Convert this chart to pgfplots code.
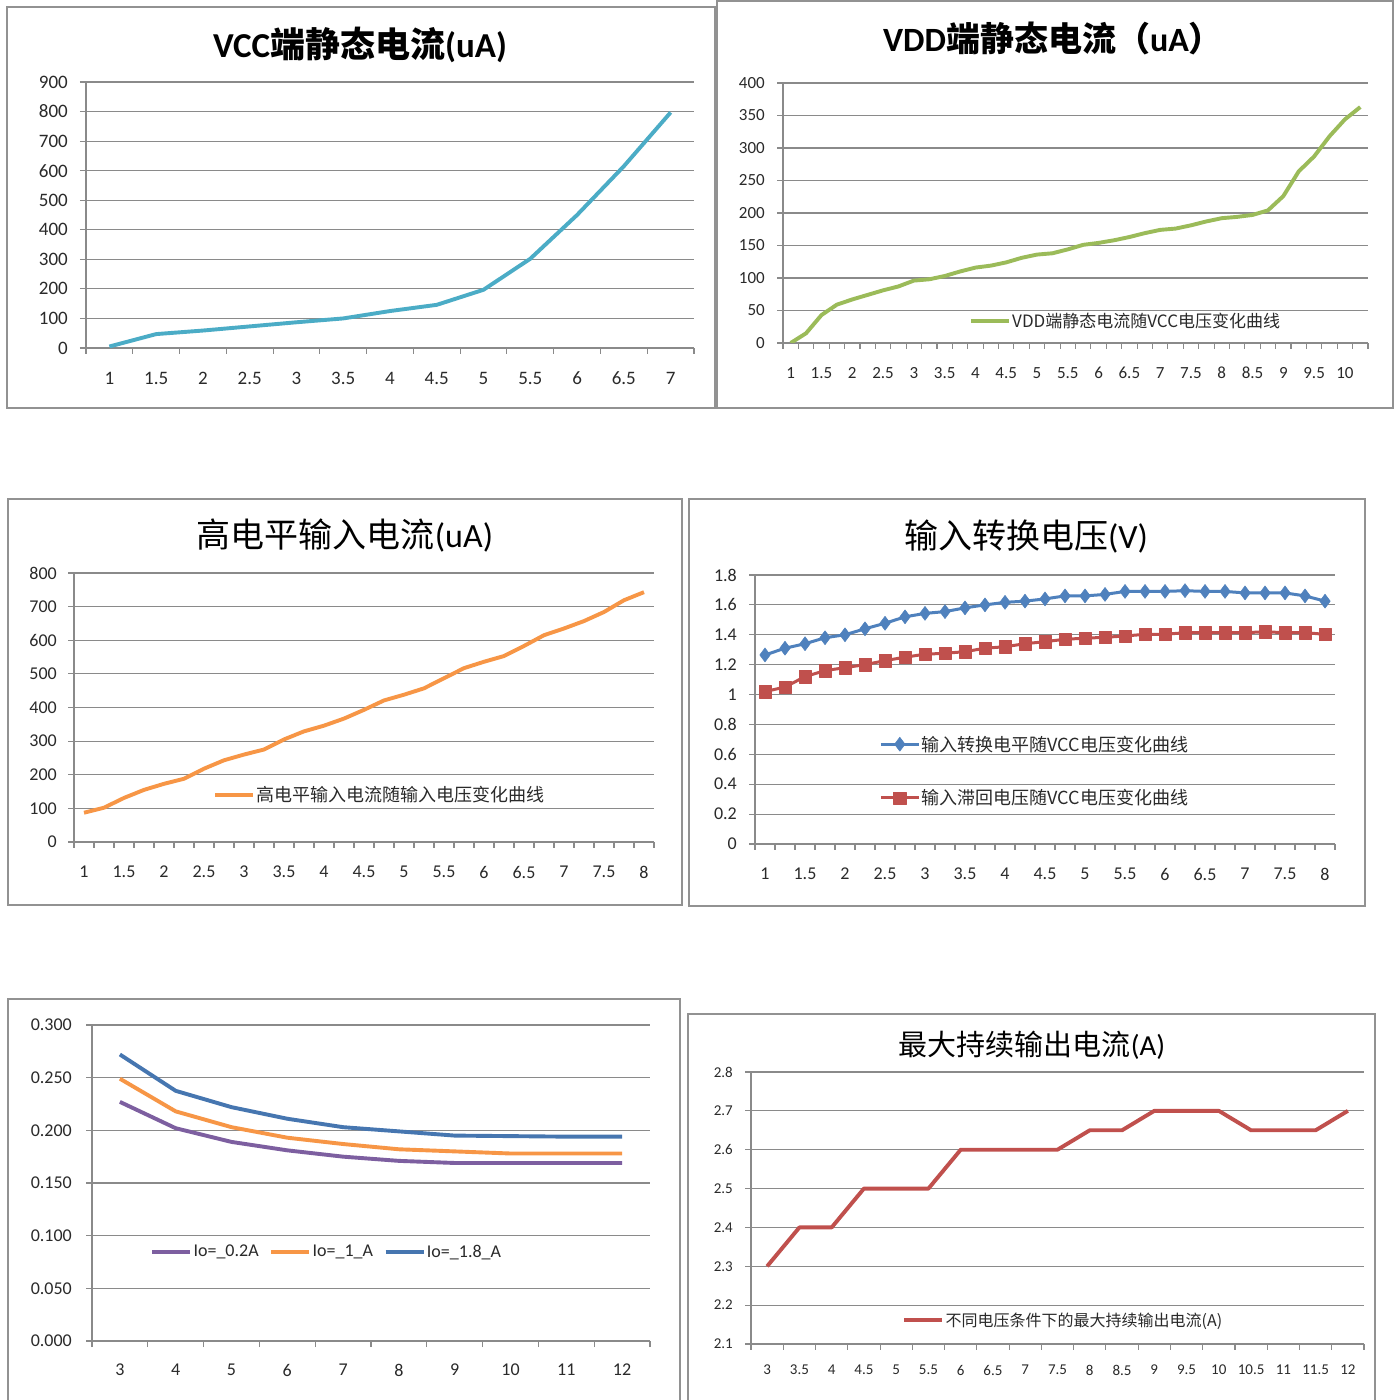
\documentclass[border=0pt]{standalone}
\usepackage{pgfplots}
\pgfplotsset{compat=1.18}
\usepackage{fontspec}
\setmainfont{Carlito}
\newfontfamily\cjk{Noto Sans CJK SC}

\definecolor{tealc}{HTML}{4BACC6}
\definecolor{greenc}{HTML}{9BBB59}
\definecolor{orangec}{HTML}{F79646}
\definecolor{bluec}{HTML}{4F81BD}
\definecolor{blued}{HTML}{4676B0}
\definecolor{redc}{HTML}{C0504D}
\definecolor{purplec}{HTML}{7D5FA0}
\definecolor{gridc}{HTML}{8A8A8A}
\definecolor{framec}{HTML}{929292}
\definecolor{labelc}{HTML}{2A2A2A}

\newcommand{\fs}[1]{\fontsize{#1}{#1}\selectfont}

% common look of the excel style line charts
\pgfplotsset{
  xlchart/.style={
    scale only axis,
    axis x line*=bottom, axis y line*=left,
    axis line style={draw=gridc, line width=1.1pt, -},
    ymajorgrids, grid style={draw=gridc, line width=1.1pt},
    tick align=outside,
    major tick length=6pt, minor tick length=6pt,
    major x tick style={draw=none},
    minor x tick style={draw=gridc, line width=1.1pt},
    major y tick style={draw=gridc, line width=1.1pt},
    /pgf/number format/assume math mode=true,
    xticklabel style={anchor=center, text=labelc, font=\fs{19}},
    yticklabel style={anchor=east, inner sep=0pt, text=labelc, font=\fs{19}},
    legend style={draw=none, fill=none, font=\cjk\fs{18}, text=labelc,
      nodes={inner sep=1.5pt}},
    legend cell align=left,
    legend image code/.code={\draw[mark repeat=2, mark phase=2, #1]
      plot coordinates {(0pt,0pt) (19pt,0pt) (38pt,0pt)};},
    line join=round,
  },
}

\begin{document}
\begin{tikzpicture}[x=1pt, y=1pt]
\fill[white] (0,0) rectangle (1399,1400);
\path[use as bounding box] (0,0) rectangle (1399,1400);

% chart frames
\draw[framec, line width=1.2pt] (7,992) rectangle (715,1393);
\draw[framec, line width=1.2pt] (717,992) rectangle (1393,1399);
\draw[framec, line width=1.2pt] (8,495) rectangle (682,901);
\draw[framec, line width=1.2pt] (689,494) rectangle (1365,901);
\draw[framec, line width=1.2pt] (8,-2) -- (8,401) -- (680,401) -- (680,-2);
\draw[framec, line width=1.2pt] (688,-2) -- (688,386) -- (1375,386) -- (1375,-2);

% titles
\node[font=\fs{35}\bfseries] at (360,1355) {VCC{\cjk\bfseries 端静态电流}(uA)};
\node[font=\fs{34}\bfseries] at (1053,1362) {VDD{\cjk\bfseries 端静态电流（}uA{\cjk\bfseries ）}};
\node[font=\fs{34}] at (345,864) {{\cjk 高电平输入电流}(uA)};
\node[font=\fs{34}] at (1026,863) {{\cjk 输入转换电压}(V)};
\node[font=\fs{29}] at (1032,355) {{\cjk 最大持续输出电流}(A)};

% VCC quiescent current
\begin{axis}[xlchart, at={(86pt,1052pt)}, anchor=south west,
  width=608pt, height=266pt,
  xmin=-0.5, xmax=12.5, ymin=0, ymax=900,
  xtick={0,...,12},
  xticklabels={1,1.5,2,2.5,3,3.5,4,4.5,5,5.5,6,6.5,7},
  minor xtick={-0.5,0.5,...,12.5},
  ytick={0,100,...,900},
  yticklabels={0,100,200,300,400,500,600,700,800,900},
  xticklabel style={yshift=-24pt},
  yticklabel style={xshift=-12pt},
]
\addplot[tealc, line width=3.9pt] coordinates {
  (0,5) (1,47) (2,59) (3,73) (4,87) (5,100) (6,125) (7,146)
  (8,197) (9,302) (10,450) (11,615) (12,797)
};
\end{axis}

% VDD quiescent current
\begin{axis}[xlchart, at={(783pt,1057pt)}, anchor=south west,
  width=585pt, height=260pt,
  xmin=-0.5, xmax=37.5, ymin=0, ymax=400,
  xtick={0,2,...,36},
  xticklabels={1,1.5,2,2.5,3,3.5,4,4.5,5,5.5,6,6.5,7,7.5,8,8.5,9,9.5,10},
  minor xtick={-0.5,0.5,...,37.5},
  ytick={0,50,...,400},
  yticklabels={0,50,100,150,200,250,300,350,400},
  xticklabel style={yshift=-24pt, font=\fs{17}},
  yticklabel style={xshift=-12pt, font=\fs{17}},
  legend style={at={(0.585,0.085)}, anchor=center, font=\cjk\fs{17}},
]
\addplot[greenc, line width=3.9pt] coordinates {
  (0,0) (1,15) (2,43) (3,59) (4,67) (5,74) (6,81) (7,87) (8,96) (9,98)
  (10,103) (11,110) (12,116) (13,119) (14,124) (15,131) (16,136) (17,138)
  (18,144) (19,151) (20,154) (21,158) (22,163) (23,169) (24,174) (25,176)
  (26,181) (27,187) (28,192) (29,194) (30,197) (31,204) (32,226) (33,264)
  (34,287) (35,318) (36,344) (37,363)
};
\addlegendentry{VDD端静态电流随VCC电压变化曲线}
\end{axis}

% high level input current
\begin{axis}[xlchart, at={(74pt,558pt)}, anchor=south west,
  width=580pt, height=269pt,
  xmin=-0.5, xmax=28.5, ymin=0, ymax=800,
  xtick={0,2,...,28},
  xticklabels={1,1.5,2,2.5,3,3.5,4,4.5,5,5.5,6,6.5,7,7.5,8},
  minor xtick={-0.5,0.5,...,28.5},
  ytick={0,100,...,800},
  yticklabels={0,100,200,300,400,500,600,700,800},
  xticklabel style={yshift=-24pt, font=\fs{18}},
  yticklabel style={xshift=-11pt, font=\fs{18}},
  legend style={at={(0.527,0.175)}, anchor=center, font=\cjk\fs{18}},
]
\addplot[orangec, line width=3.9pt] coordinates {
  (0,87) (1,102) (2,131) (3,155) (4,173) (5,188) (6,218) (7,243) (8,260)
  (9,275) (10,305) (11,329) (12,346) (13,367) (14,393) (15,421) (16,438)
  (17,457) (18,487) (19,517) (20,536) (21,553) (22,583) (23,615) (24,635)
  (25,657) (26,684) (27,719) (28,743)
};
\addlegendentry{高电平输入电流随输入电压变化曲线}
\end{axis}

% input threshold voltage
\begin{axis}[xlchart, at={(755pt,556pt)}, anchor=south west,
  width=580pt, height=269pt,
  xmin=-0.5, xmax=28.5, ymin=0, ymax=1.8,
  xtick={0,2,...,28},
  xticklabels={1,1.5,2,2.5,3,3.5,4,4.5,5,5.5,6,6.5,7,7.5,8},
  minor xtick={-0.5,0.5,...,28.5},
  ytick={0,0.2,...,1.8},
  yticklabels={0,0.2,0.4,0.6,0.8,1,1.2,1.4,1.6,1.8},
  xticklabel style={yshift=-24pt, font=\fs{18}},
  yticklabel style={xshift=-12pt, font=\fs{18}},
  legend style={at={(0.482,0.271)}, anchor=center, font=\cjk\fs{18},
    row sep=34pt},
]
\addplot[bluec, line width=3pt, mark=diamond*, mark size=7pt,
  mark options={line width=0.5pt}] coordinates {
  (0,1.265) (1,1.31) (2,1.34) (3,1.38) (4,1.40) (5,1.44) (6,1.477)
  (7,1.52) (8,1.543) (9,1.555) (10,1.58) (11,1.60) (12,1.617) (13,1.625)
  (14,1.64) (15,1.66) (16,1.66) (17,1.67) (18,1.69) (19,1.69) (20,1.69)
  (21,1.695) (22,1.69) (23,1.69) (24,1.68) (25,1.68) (26,1.68) (27,1.66)
  (28,1.625)
};
\addlegendentry{输入转换电平随VCC电压变化曲线}
\addplot[redc, line width=3pt, mark=square*, mark size=6.2pt,
  mark options={line width=0.5pt}] coordinates {
  (0,1.02) (1,1.05) (2,1.12) (3,1.16) (4,1.18) (5,1.20) (6,1.227)
  (7,1.25) (8,1.27) (9,1.276) (10,1.287) (11,1.31) (12,1.32) (13,1.34)
  (14,1.354) (15,1.37) (16,1.377) (17,1.383) (18,1.392) (19,1.403)
  (20,1.403) (21,1.414) (22,1.414) (23,1.414) (24,1.414) (25,1.42)
  (26,1.414) (27,1.414) (28,1.403)
};
\addlegendentry{输入滞回电压随VCC电压变化曲线}
\end{axis}

% dropout at different loads
\begin{axis}[xlchart, at={(92pt,59pt)}, anchor=south west,
  width=558pt, height=316pt,
  xmin=-0.5, xmax=9.5, ymin=0, ymax=0.3,
  xtick={0,...,9},
  xticklabels={3,4,5,6,7,8,9,10,11,12},
  minor xtick={-0.5,0.5,...,9.5},
  ytick={0,0.05,...,0.3},
  yticklabels={0.000,0.050,0.100,0.150,0.200,0.250,0.300},
  xticklabel style={yshift=-23pt, font=\fs{18}},
  yticklabel style={xshift=-14pt, font=\fs{18}},
  legend columns=3,
  legend style={at={(0.42,0.282)}, anchor=center, font=\fs{18},
    /tikz/every even column/.append style={column sep=9pt}},
]
\addplot[purplec, line width=3.9pt] coordinates {
  (0,0.227) (1,0.202) (2,0.189) (3,0.181) (4,0.175) (5,0.171) (6,0.169)
  (7,0.169) (8,0.169) (9,0.169)
};
\addlegendentry{Io=\_0.2A}
\addplot[orangec, line width=3.9pt] coordinates {
  (0,0.249) (1,0.218) (2,0.203) (3,0.193) (4,0.187) (5,0.182) (6,0.180)
  (7,0.178) (8,0.178) (9,0.178)
};
\addlegendentry{Io=\_1\_A}
\addplot[blued, line width=3.9pt] coordinates {
  (0,0.272) (1,0.2375) (2,0.222) (3,0.211) (4,0.203) (5,0.199) (6,0.195)
  (7,0.1945) (8,0.194) (9,0.194)
};
\addlegendentry{Io=\_1.8\_A}
\end{axis}

% maximum continuous output current
\begin{axis}[xlchart, at={(751pt,56pt)}, anchor=south west,
  width=613pt, height=272pt,
  xmin=-0.5, xmax=18.5, ymin=2.1, ymax=2.8,
  xtick={0,...,18},
  xticklabels={3,3.5,4,4.5,5,5.5,6,6.5,7,7.5,8,8.5,9,9.5,10,10.5,11,11.5,12},
  minor xtick={-0.5,0.5,...,18.5},
  ytick={2.1,2.2,...,2.8},
  yticklabels={2.1,2.2,2.3,2.4,2.5,2.6,2.7,2.8},
  xticklabel style={yshift=-20pt, font=\fs{15}},
  yticklabel style={xshift=-12pt, font=\fs{15}},
  legend style={at={(0.509,0.088)}, anchor=center, font=\cjk\fs{16}},
]
\addplot[redc, line width=3.9pt] coordinates {
  (0,2.3) (1,2.4) (2,2.4) (3,2.5) (4,2.5) (5,2.5) (6,2.6) (7,2.6)
  (8,2.6) (9,2.6) (10,2.65) (11,2.65) (12,2.7) (13,2.7) (14,2.7)
  (15,2.65) (16,2.65) (17,2.65) (18,2.7)
};
\addlegendentry{不同电压条件下的最大持续输出电流(A)}
\end{axis}
\end{tikzpicture}
\end{document}
